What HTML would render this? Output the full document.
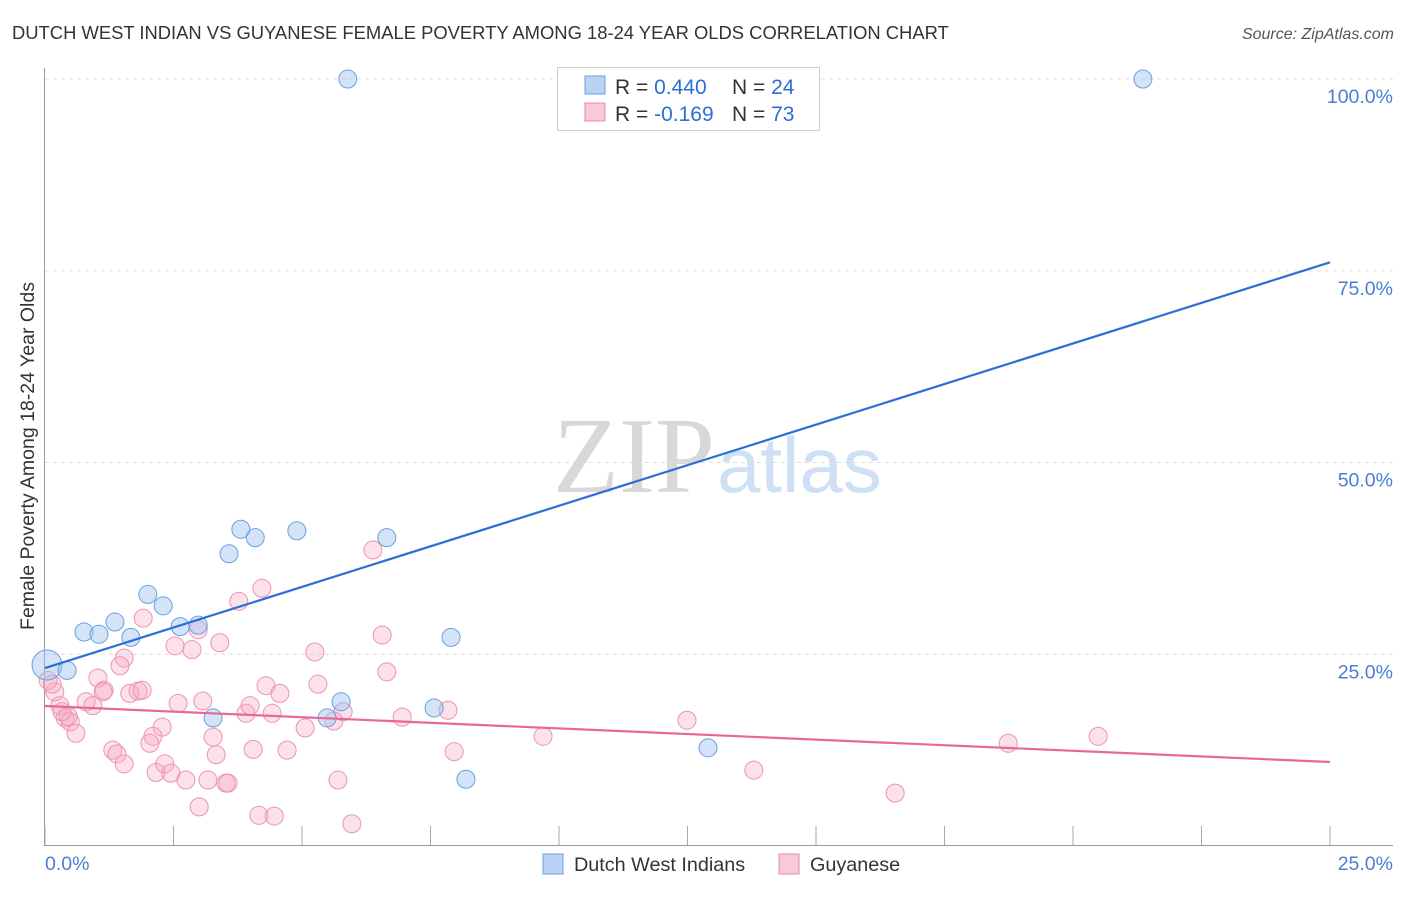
<!DOCTYPE html>
<html><head><meta charset="utf-8"><style>
body{margin:0;background:#fff;font-family:"Liberation Sans",sans-serif}
svg text{font-family:"Liberation Sans",sans-serif}
</style></head><body>
<svg width="1406" height="892" xmlns="http://www.w3.org/2000/svg" id="chart">
<text x="12" y="39" font-size="18.4" fill="#333">DUTCH WEST INDIAN VS GUYANESE FEMALE POVERTY AMONG 18-24 YEAR OLDS CORRELATION CHART</text>
<text x="1394" y="39" font-size="16" fill="#555" font-style="italic" text-anchor="end">Source: ZipAtlas.com</text>
<text x="553" y="492" font-size="108" fill="#d8d8d8" style="font-family:'Liberation Serif',serif">ZIP</text>
<text x="717" y="492" font-size="78" fill="#cfe0f5">atlas</text>
<g id="grid"></g>
<line x1="44.5" y1="68" x2="44.5" y2="846" stroke="#999" stroke-width="1"/>
<line x1="44" y1="845.5" x2="1393" y2="845.5" stroke="#999" stroke-width="1"/>
<g id="xticks"></g>
<text transform="translate(34,456) rotate(-90)" font-size="19.5" fill="#333" text-anchor="middle">Female Poverty Among 18-24 Year Olds</text>
<text x="45" y="870" font-size="19.5" fill="#4a7fd0">0.0%</text>
<text x="1393" y="870" font-size="19.5" fill="#4a7fd0" text-anchor="end">25.0%</text>
<g id="points"></g>
<g id="lines"></g>
<g>
<rect x="557.5" y="67.5" width="262" height="63" fill="#fff" stroke="#ccc"/>
<rect x="585" y="76" width="20" height="18" fill="#b9d3f5" stroke="#6a9fe0"/>
<rect x="585" y="103" width="20" height="18" fill="#f9c9d8" stroke="#e98aa8"/>
<text x="615" y="94" font-size="21" fill="#333">R = <tspan fill="#2a6fd6">0.440</tspan><tspan x="732">N = </tspan><tspan fill="#2a6fd6">24</tspan></text>
<text x="615" y="121" font-size="21" fill="#333">R = <tspan fill="#2a6fd6">-0.169</tspan><tspan x="732">N = </tspan><tspan fill="#2a6fd6">73</tspan></text>
</g>
<g>
<rect x="543" y="854" width="20" height="20" fill="#b9d3f5" stroke="#6a9fe0"/>
<text x="574" y="871" font-size="19.8" fill="#333">Dutch West Indians</text>
<rect x="779" y="854" width="20" height="20" fill="#f9c9d8" stroke="#e98aa8"/>
<text x="810" y="871" font-size="19.8" fill="#333">Guyanese</text>
</g>
</svg>
<script>
const yTicks=[25,50,75,100];
const yTickLabels=["25.0%","50.0%","75.0%","100.0%"];
const xTicks=[0,2.5,5,7.5,10,12.5,15,17.5,20,22.5,25];
const blueX=[5.89,21.36,0.04,0.43,0.76,1.05,1.36,1.67,2.00,2.30,2.63,2.98,3.27,3.58,3.81,4.09,4.90,5.76,5.49,6.65,7.90,7.57,8.19,12.90];
const blueY=[100,100,23.6,22.9,27.9,27.6,29.2,27.2,32.8,31.3,28.6,28.8,16.7,38.1,41.3,40.2,41.1,18.8,16.7,40.2,27.2,18.0,8.7,12.8];
const pinkX=[6.38,4.22,3.77,1.91,2.98,2.53,2.86,3.40,5.25,6.56,6.65,1.54,1.46,1.03,1.15,1.13,1.65,1.81,1.89,0.80,0.93,0.29,0.19,0.06,2.59,3.07,3.91,3.99,4.30,4.57,4.42,5.31,5.80,5.62,5.06,2.28,2.10,2.04,1.32,1.40,1.54,3.27,3.33,4.05,4.71,6.95,7.84,9.69,7.96,2.16,2.33,2.45,2.74,3.17,3.52,3.56,3.00,4.16,4.46,5.97,5.70,13.79,12.49,16.54,18.74,20.49,0.39,0.49,0.60,0.45,0.14,0.33];
const pinkY=[38.6,33.6,31.9,29.7,28.2,26.1,25.6,26.5,25.3,27.5,22.7,24.5,23.5,21.9,20.3,20.1,19.9,20.2,20.3,18.8,18.3,18.3,20.1,21.6,18.6,18.9,17.3,18.3,20.9,19.9,17.3,21.1,17.5,16.3,15.4,15.5,14.3,13.4,12.5,12.0,10.7,14.2,11.9,12.6,12.5,16.8,17.7,14.3,12.3,9.6,10.7,9.5,8.6,8.6,8.2,8.2,5.1,4.0,3.9,2.9,8.6,9.9,16.4,6.9,13.4,14.3,16.7,16.2,14.7,16.9,21.1,17.5];
const blueTrend=[23.2,76.1];
const pinkTrend=[18.25,10.95];
const NS="http://www.w3.org/2000/svg";
const X=v=>45+v/25*1285;
const Y=v=>846-v/100*767;
function mk(t,a,p){const e=document.createElementNS(NS,t);for(const k in a)e.setAttribute(k,a[k]);p.appendChild(e);return e;}
const grid=document.getElementById('grid');
yTicks.forEach((t,i)=>{
 const l=mk('line',{x1:45,x2:1393,y1:Y(t),y2:Y(t),stroke:'#ddd','stroke-dasharray':'4,4'},grid);
 
 
 const tx=mk('text',{x:1393,y:Y(t)+24,'font-size':19.5,fill:'#4a7fd0','text-anchor':'end'},grid);
 tx.textContent=yTickLabels[i];
 
 
});
const xt=document.getElementById('xticks');
xTicks.forEach(t=>{
 const l=mk('line',{x1:X(t),x2:X(t),y1:826,y2:845,stroke:'#aaa'},xt);
 
 
});
const pts=document.getElementById('points');
pinkX.forEach((v,i)=>{
 const c=mk('circle',{cx:X(v),cy:Y(pinkY[i]),r:9,fill:'rgba(246,170,196,0.35)',stroke:'#ec93b0','stroke-width':1},pts);
 
 
});
blueX.forEach((v,i)=>{
 const c=mk('circle',{cx:X(v),cy:Y(blueY[i]),r:i==2?15:9,fill:'rgba(160,196,240,0.45)',stroke:'#6a9fe0','stroke-width':1},pts);
 
 
});
const ln=document.getElementById('lines');
const b=mk('line',{x1:X(0),y1:Y(blueTrend[0]),x2:X(25),y2:Y(blueTrend[1]),stroke:'#2a6fd6','stroke-width':2.2},ln);


const p=mk('line',{x1:X(0),y1:Y(pinkTrend[0]),x2:X(25),y2:Y(pinkTrend[1]),stroke:'#e8679a','stroke-width':2.2},ln);


</script>
</body></html>
